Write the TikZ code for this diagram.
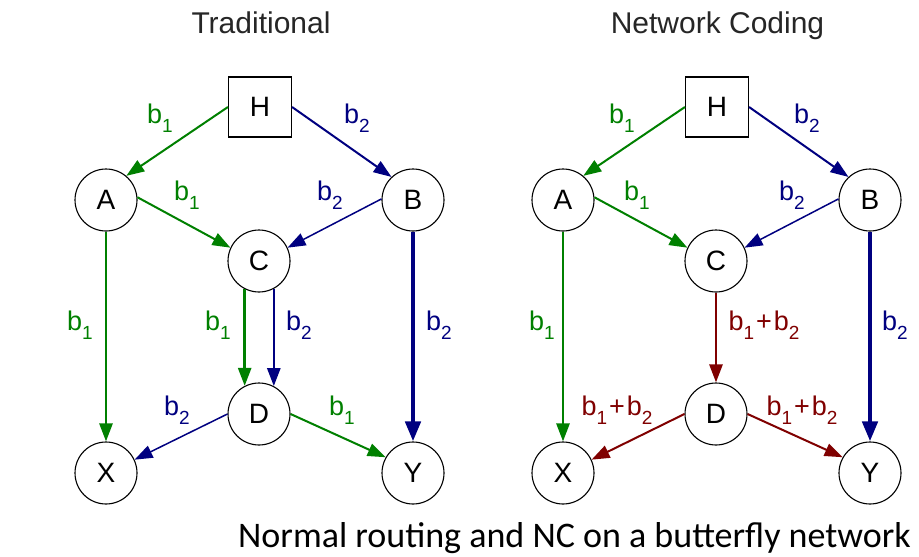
\documentclass[tikz,border=0pt]{standalone}
\usepackage{fontspec}
\setmainfont{Liberation Sans}
\newfontfamily\capfont{Carlito}
\usetikzlibrary{arrows.meta}
\definecolor{ngreen}{RGB}{0,128,0}
\definecolor{nblue}{RGB}{0,0,128}
\definecolor{nred}{RGB}{128,0,0}
\newcommand\bsub[1]{b\raisebox{-9pt}{\fontsize{19pt}{19pt}\selectfont #1}}
\newcommand\bsum{\bsub{1}\hspace{2pt}+\hspace{2pt}\bsub{2}}
\begin{document}
\begin{tikzpicture}[x=1pt,y=-1pt,
  rnode/.style={circle,draw,line width=1.1pt,minimum size=62pt,inner sep=0pt,
    font=\fontsize{28pt}{28pt}\selectfont},
  hbox/.style={rectangle,draw,line width=1.1pt,minimum width=63pt,minimum height=60pt,
    inner sep=0pt,font=\fontsize{28pt}{28pt}\selectfont},
  lbl/.style={font=\fontsize{27pt}{27pt}\selectfont,inner sep=0pt},
  ttl/.style={font=\fontsize{30pt}{30pt}\selectfont,text=black!85,anchor=base},
  arr/.style={-{Triangle[length=18pt,width=13pt]}},
  thin/.style={arr,line width=1.5pt},
  mid/.style={arr,line width=2pt},
  thick/.style={arr,line width=2.6pt},
  vthick/.style={-{Triangle[length=20pt,width=15pt]},line width=4.5pt},
  green/.style={draw=ngreen},
  blue/.style={draw=nblue},
  red/.style={draw=nred}
]
\path[use as bounding box,fill=white] (0,0) rectangle (919,557);

% titles
\node[ttl] (t1) at (261,33) {Traditional};
\node[ttl] (t2) at (717.5,33) {Network Coding};

% ---------- left: traditional
\node[hbox] (LH) at (260,107) {H};
\node[rnode] (LA) at (106,200) {A};
\node[rnode] (LB) at (413,200) {B};
\node[rnode] (LC) at (259,261) {C};
\node[rnode] (LD) at (259,414) {D};
\node[rnode] (LX) at (106,473) {X};
\node[rnode] (LY) at (413,473) {Y};

\draw[mid,green] (LH.west) -- (LA.50);
\draw[mid,blue] (LH.east) -- (LB.133);
\draw[mid,green] (LA.5) -- (LC.155);
\draw[thin,blue] (LB.178) -- (LC.25);
\draw[thick,green] (LA.south) -- (LX.north);
\draw[vthick,blue] (LB.south) -- (LY.north);
\draw[thick,green] (LC.-117) -- (LD.117);
\draw[thick,blue] (LC.-62) -- (LD.62);
\draw[thin,blue] (LD.west) -- (LX.25);
\draw[mid,green] (LD.east) -- (LY.150);

\node[lbl,text=ngreen] (l1) at (160,118) {\bsub{1}};
\node[lbl,text=nblue] (l2) at (357,118) {\bsub{2}};
\node[lbl,text=ngreen] (l3) at (187,195) {\bsub{1}};
\node[lbl,text=nblue] (l4) at (330,195) {\bsub{2}};
\node[lbl,text=ngreen] (l5) at (80,325) {\bsub{1}};
\node[lbl,text=nblue] (l6) at (439,325) {\bsub{2}};
\node[lbl,text=ngreen] (l7) at (218,325) {\bsub{1}};
\node[lbl,text=nblue] (l8) at (299,325) {\bsub{2}};
\node[lbl,text=nblue] (l9) at (177,410) {\bsub{2}};
\node[lbl,text=ngreen] (l10) at (342,410) {\bsub{1}};

% ---------- right: network coding
\node[hbox] (RH) at (717,107) {H};
\node[rnode] (RA) at (563,200) {A};
\node[rnode] (RB) at (870,200) {B};
\node[rnode] (RC) at (716,261) {C};
\node[rnode] (RD) at (716,414) {D};
\node[rnode] (RX) at (563,473) {X};
\node[rnode] (RY) at (870,473) {Y};

\draw[mid,green] (RH.west) -- (RA.50);
\draw[mid,blue] (RH.east) -- (RB.133);
\draw[mid,green] (RA.5) -- (RC.155);
\draw[thin,blue] (RB.178) -- (RC.25);
\draw[thick,green] (RA.south) -- (RX.north);
\draw[vthick,blue] (RB.south) -- (RY.north);
\draw[thick,red] (RC.south) -- (RD.north);
\draw[mid,red] (RD.west) -- (RX.25);
\draw[mid,red] (RD.east) -- (RY.150);

\node[lbl,text=ngreen] (r1) at (622,118) {\bsub{1}};
\node[lbl,text=nblue] (r2) at (807,118) {\bsub{2}};
\node[lbl,text=ngreen] (r3) at (637,195) {\bsub{1}};
\node[lbl,text=nblue] (r4) at (792,195) {\bsub{2}};
\node[lbl,text=ngreen] (r5) at (542,325) {\bsub{1}};
\node[lbl,text=nblue] (r6) at (895,325) {\bsub{2}};
\node[lbl,text=nred] (r7) at (764,325) {\bsum};
\node[lbl,text=nred] (r8) at (617,410) {\bsum};
\node[lbl,text=nred] (r9) at (802,410) {\bsum};

% caption
\node[font=\capfont\fontsize{36pt}{36pt}\selectfont,anchor=base,inner sep=0pt] (cap)
  at (574.5,547) {Normal routing and NC on a butterfly network};
\end{tikzpicture}
\end{document}
